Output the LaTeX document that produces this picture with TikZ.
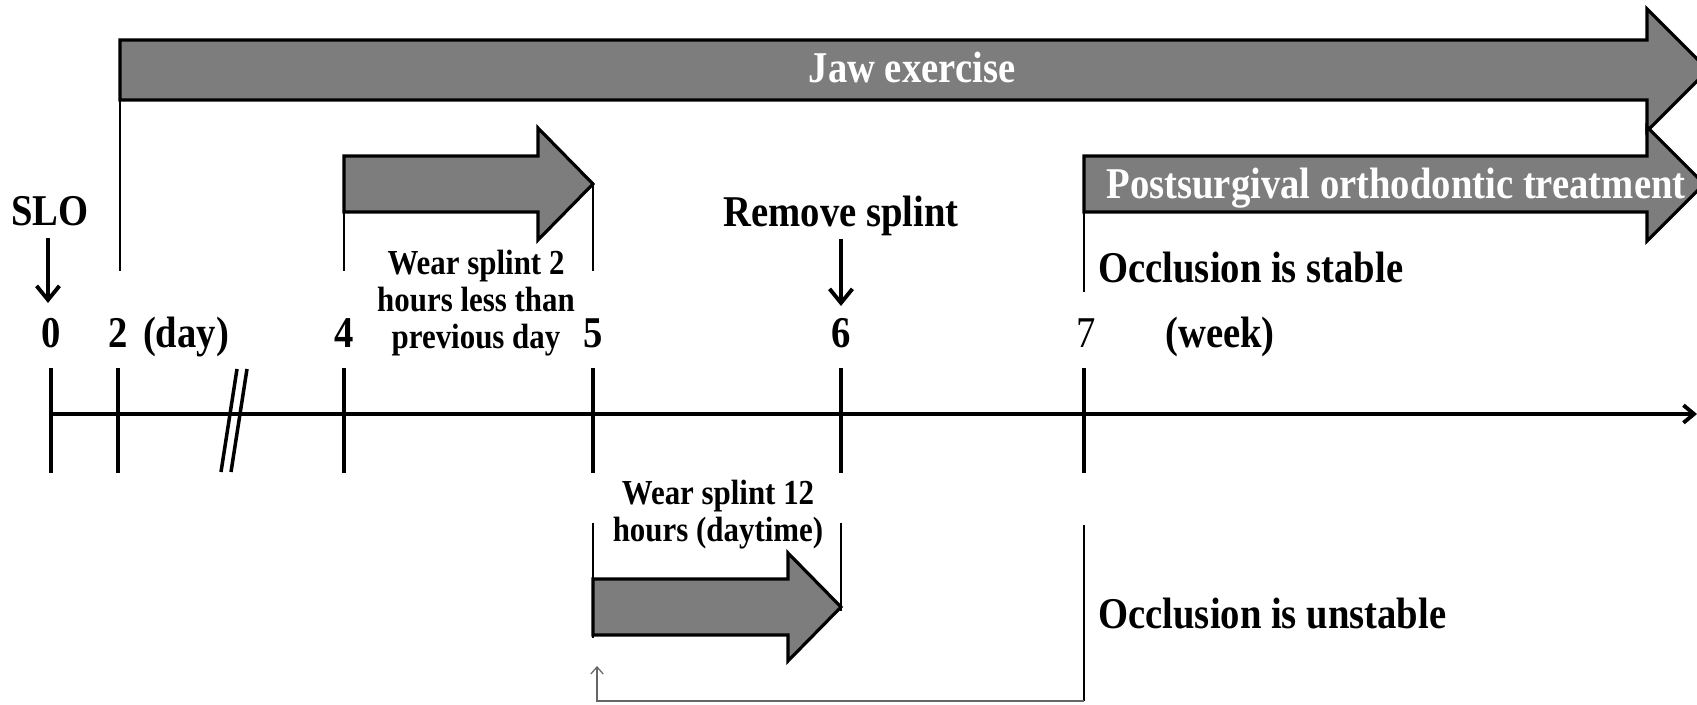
\documentclass[tikz,border=0pt]{standalone}
\usepackage{fontspec}
\setmainfont{Liberation Serif}[FakeStretch=0.88]
\usetikzlibrary{arrows.meta}
\lineskiplimit=-20pt

\newcommand{\FatArrow}[6]{%
  \draw[fatarrow] (#1,#4-#5) -- (#2,#4-#5) -- (#2,#4-#6) -- (#3,#4)
    -- (#2,#4+#6) -- (#2,#4+#5) -- (#1,#4+#5) -- cycle;}

\tikzset{
  fatarrow/.style={draw=black,line width=1.8pt,fill=black!51,line join=miter},
  lbl/.style={inner sep=0pt,font=\fontsize{25}{27}\selectfont\bfseries},
  note/.style={inner sep=0pt,align=center,font=\fontsize{20}{21}\selectfont\bfseries},
  tickmark/.style={line width=2pt},
  guide/.style={line width=1.1pt},
  pointer/.style={line width=2.2pt,-{Straight Barb[length=8pt,width=13pt]}},
}

\begin{document}
\begin{tikzpicture}[x=0.02cm,y=-0.02cm]
\useasboundingbox (0,0) rectangle (1697,705);
\coordinate (axstart) at (51,414);
\coordinate (axend) at (1697,414);
\draw[line width=2.2pt,-{Straight Barb[length=6pt,width=10pt]}] (axstart) -- (axend);
\foreach \x/\d in {51/0,118/2,344/4,593/5,841/6,1084/7}{
  \coordinate (top\d) at (\x,368);
  \coordinate (bot\d) at (\x,473);
  \draw[tickmark] (top\d) -- (bot\d);
}
\foreach \x/\d in {51/0,118/2,344/4,593/5,841/6}
  \node[lbl,anchor=base] (lab\d) at (\x,348) {\d};
\node[lbl,anchor=base,font=\fontsize{25}{27}\selectfont] (lab7) at (1086,348) {7};
\node[lbl,anchor=base] (day) at (186,348) {(day)};
\node[lbl,anchor=base] (week) at (1220,348) {(week)};
% break in the axis
\draw[tickmark] (221,472) -- (237,369);
\draw[tickmark] (231,472) -- (247,369);

\node[lbl,anchor=base] (slo) at (50,226) {SLO};
\coordinate (slotip) at (48,303);
\draw[pointer,shorten <=7pt] (slo.base -| slotip) -- (slotip);
\node[lbl,anchor=base] (remove) at (841,227) {Remove splint};
\coordinate (removetip) at (841,306);
\draw[pointer,shorten <=7pt] (remove.base) -- (removetip);

\FatArrow{120}{1647}{1708}{70}{30}{61}
\node[lbl,anchor=base,text=white] (jaw) at (912,83) {Jaw exercise};
\FatArrow{1084}{1647}{1704}{184}{28}{57}
\node[lbl,anchor=base,text=white] (post) at (1396,199) {Postsurgival orthodontic treatment};
\FatArrow{344}{538}{593}{184}{28}{56}
\node[note] (wear2) at (476,303) {Wear splint 2\\hours less than\\previous day};
\FatArrow{593}{788}{841}{607}{28}{54}
\node[note] (wear12) at (718,515) {Wear splint 12\\hours (daytime)};

\node[lbl,anchor=base west] (stable) at (1098,283) {Occlusion is stable};
\node[lbl,anchor=base west] (unstable) at (1098,628) {Occlusion is unstable};

\coordinate (g2a) at (120,100); \coordinate (g2b) at (120,271);
\coordinate (g4a) at (344,212); \coordinate (g4b) at (344,271);
\coordinate (g5a) at (593,184); \coordinate (g5b) at (593,271);
\coordinate (g7a) at (1084,212); \coordinate (g7b) at (1084,292);
\coordinate (g5c) at (593,523); \coordinate (g5d) at (593,638);
\coordinate (g6c) at (841,523); \coordinate (g6d) at (841,611);
\coordinate (g7c) at (1084,525); \coordinate (g7d) at (1084,701);
\coordinate (back) at (597,701); \coordinate (backtip) at (597,666);
\draw[guide] (g2a) -- (g2b);
\draw[guide] (g4a) -- (g4b);
\draw[guide] (g5a) -- (g5b);
\draw[guide] (g7a) -- (g7b);
\draw[guide] (g5c) -- (g5d);
\draw[guide] (g6c) -- (g6d);
\draw[guide] (g7c) -- (g7d);
\draw[black!60,line width=0.7pt,-{Straight Barb[length=4pt,width=7pt]}] (g7d) -- (back) -- (backtip);
\end{tikzpicture}
\end{document}
